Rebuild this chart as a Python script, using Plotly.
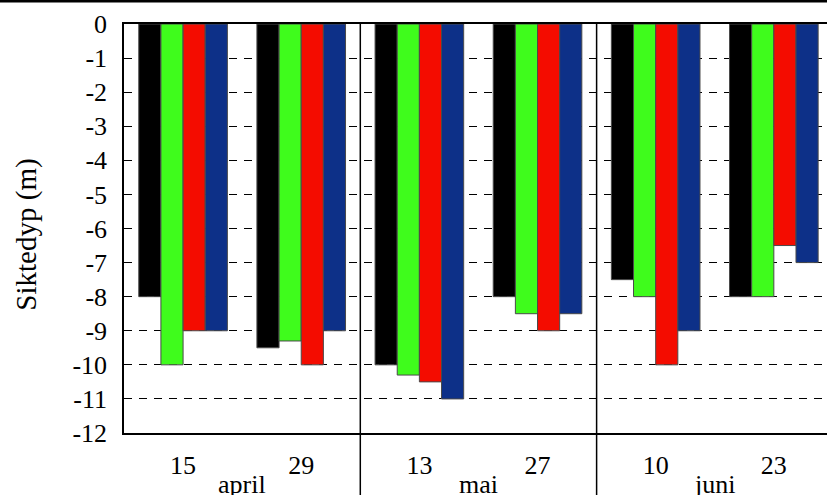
import plotly.graph_objects as go

days = ["15", "29", "13", "27", "10", "23"]
months = ["april", "mai", "juni"]
series_names = ["S1", "S2", "S3", "S4"]
black_vals = [-8, -9.5, -10, -8, -7.5, -8]
green_vals = [-10, -9.3, -10.3, -8.5, -8, -8]
red_vals = [-9, -10, -10.5, -9, -10, -6.5]
blue_vals = [-9, -9, -11, -8.5, -9, -7]
colors = ["#000000", "#3FFC1C", "#F40C00", "#0D3088"]
yticks = list(range(0, -13, -1))

W, H = 827, 495
L, T, B = 124, 24, 433
plot_h = B - T
xpos = list(range(len(days)))
FAM = "Liberation Serif"

fig = go.Figure()
for name, vals, c in zip(series_names, [black_vals, green_vals, red_vals, blue_vals], colors):
    fig.add_trace(go.Bar(x=xpos, y=vals, name=name,
                         marker=dict(color=c, line=dict(color="#4a4a4a", width=1))))

fig.update_layout(
    width=W, height=H,
    margin=dict(l=L, r=0, t=T, b=H - B, autoexpand=False),
    paper_bgcolor="white", plot_bgcolor="white",
    barmode="group", bargap=0.25, bargroupgap=0.0,
    showlegend=False,
    font=dict(family=FAM, size=25, color="black"),
)
fig.update_xaxes(
    range=[-0.5, 5.45], tickmode="array", tickvals=xpos, ticktext=days,
    tickfont=dict(family=FAM, size=26),
    showgrid=False, zeroline=False, showline=True, linecolor="black", linewidth=1.5,
    mirror=True, ticks="", ticklabelstandoff=8,
)
fig.update_yaxes(
    range=[-12, 0], tickmode="array", tickvals=yticks, ticktext=[str(v) for v in yticks],
    tickfont=dict(family=FAM, size=26),
    showgrid=True, gridcolor="black", gridwidth=1, griddash="8px,7px",
    zeroline=False, showline=True, linecolor="black", linewidth=1.5,
    ticks="inside", ticklen=8, tickcolor="black", ticklabelstandoff=10,
)
# month separators
for xs in [1.5, 3.5]:
    fig.add_shape(type="line", xref="x", yref="paper", x0=xs, x1=xs, y0=-0.2, y1=1,
                  line=dict(color="black", width=1.5))
# top rule
fig.add_shape(type="line", xref="paper", yref="paper", x0=-0.2, x1=1.05,
              y0=1 + (T - 1) / plot_h, y1=1 + (T - 1) / plot_h, line=dict(color="black", width=3))
# month labels
for i, m in enumerate(months):
    fig.add_annotation(text=m, x=2 * i + 0.5, xref="x", yref="paper", y=(B - 484) / plot_h,
                       yanchor="middle", showarrow=False, font=dict(family=FAM, size=26))
fig.add_annotation(text="Siktedyp (m)", textangle=-90, xref="paper", yref="paper",
                   x=(27 - L) / (W - L), y=0.485, xanchor="center", yanchor="middle",
                   showarrow=False, font=dict(family=FAM, size=29))
fig.write_html("out.html", config={"displayModeBar": False},
               post_script="document.body.style.margin='0';document.body.style.overflow='hidden';")
